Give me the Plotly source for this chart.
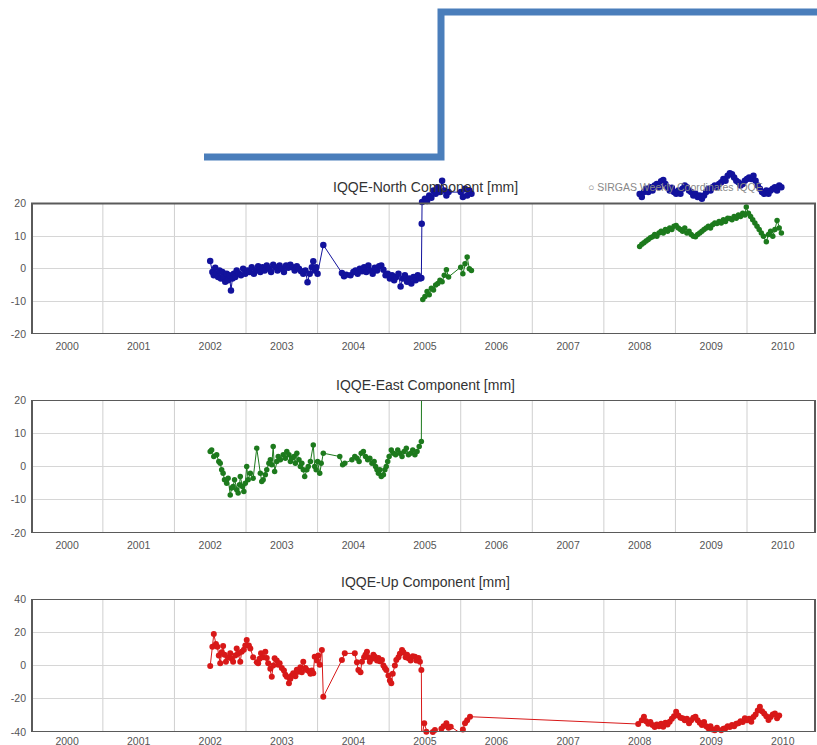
import plotly.graph_objects as go

# ---------------- data (decimal years, mm) ----------------
years = [2000, 2001, 2002, 2003, 2004, 2005, 2006, 2007, 2008, 2009, 2010]
year_labels = [str(y) for y in years]
grid_years = [2000.5, 2001.5, 2002.5, 2003.5, 2004.5, 2005.5, 2006.5, 2007.5, 2008.5, 2009.5]

north_blue_t = [
    2002.00, 2002.03, 2002.05, 2002.07, 2002.09, 2002.11, 2002.13, 2002.15, 2002.17, 2002.19,
    2002.21, 2002.23, 2002.25, 2002.27, 2002.29, 2002.31, 2002.33, 2002.35, 2002.37, 2002.40,
    2002.43, 2002.46, 2002.49, 2002.52, 2002.55, 2002.58, 2002.61, 2002.64, 2002.67, 2002.70,
    2002.73, 2002.76, 2002.79, 2002.82, 2002.85, 2002.88, 2002.91, 2002.94, 2002.97, 2003.00,
    2003.03, 2003.06, 2003.09, 2003.12, 2003.15, 2003.18, 2003.21, 2003.24, 2003.27, 2003.30,
    2003.33, 2003.36, 2003.39, 2003.42, 2003.44, 2003.46, 2003.48, 2003.50, 2003.58, 2003.84,
    2003.87, 2003.90, 2003.96, 2004.00, 2004.03, 2004.06, 2004.09, 2004.12, 2004.15, 2004.18,
    2004.21, 2004.24, 2004.27, 2004.30, 2004.33, 2004.36, 2004.39, 2004.42, 2004.45, 2004.48,
    2004.51, 2004.54, 2004.57, 2004.60, 2004.63, 2004.66, 2004.69, 2004.72, 2004.75, 2004.78,
    2004.81, 2004.84, 2004.87, 2004.90, 2004.93, 2004.95, 2004.955, 2004.96,
    2005.00, 2005.03, 2005.06, 2005.09, 2005.12, 2005.15, 2005.18, 2005.21, 2005.24, 2005.27,
    2005.30, 2005.33, 2005.50, 2005.53, 2005.56, 2005.59, 2005.62, 2005.65,
    None,
    2008.00, 2008.03, 2008.06, 2008.09, 2008.12, 2008.15, 2008.18, 2008.21, 2008.24, 2008.27,
    2008.30, 2008.33, 2008.36, 2008.39, 2008.42, 2008.45, 2008.48, 2008.51, 2008.54, 2008.57,
    2008.60, 2008.63, 2008.66, 2008.69, 2008.72, 2008.75, 2008.78, 2008.81, 2008.84, 2008.87,
    2008.90, 2008.93, 2008.96, 2008.99, 2009.02, 2009.05, 2009.08, 2009.11, 2009.14, 2009.17,
    2009.20, 2009.23, 2009.26, 2009.29, 2009.32, 2009.35, 2009.38, 2009.41, 2009.44, 2009.47,
    2009.50, 2009.53, 2009.56, 2009.59, 2009.62, 2009.65, 2009.68, 2009.71, 2009.74, 2009.77,
    2009.80, 2009.83, 2009.86, 2009.89, 2009.92, 2009.95, 2009.98,
]
north_blue_v = [
    2.4, -1.0, -2.0, 0.3, -1.5, -2.5, -0.5, -3.0, -1.0, -2.8,
    -4.0, -1.5, -3.5, -2.0, -6.7, -3.0, -1.5, -2.5, -0.5, -1.5,
    -2.0, 0.0, -1.5, -0.5, -1.0, 0.5, -1.5, -0.5, 0.8, -1.0,
    0.5, -0.5, 1.0, 0.0, -1.0, 1.2, 0.5, -0.5, 1.0, 0.0,
    -1.0, 1.0, 0.3, 1.2, 0.5, -0.5, 0.8, 0.0, -0.8, -1.5,
    -0.5, -4.1, -1.5, 0.5, 2.3, -0.5, 0.5, -1.5, 7.3, -1.3,
    -2.3, -1.8, -2.0, -1.0, -0.5, -1.5, 0.0, -0.8, 0.5, -1.0,
    1.0, -0.5, -1.5, 0.3, -0.5, 0.8, 1.0, -0.3, -2.0, -1.5,
    -3.0, -2.0, -3.5, -2.5, -1.5, -5.4, -3.0, -2.0, -4.0, -3.0,
    -4.5, -2.5, -3.5, -2.0, -3.0, -2.8, 13.8, 20.5,
    21.5, 20.8, 22.5, 21.8, 24.0, 23.0, 25.0, 23.5, 27.0, 24.0,
    22.5, 23.5, 23.5, 22.0, 24.5, 22.5, 24.0, 23.0,
    None,
    22.9, 22.0, 23.5, 24.5, 23.5, 25.0, 24.0, 25.5, 26.0, 25.0,
    26.8, 27.2, 26.0, 25.0, 24.0, 24.8, 23.5, 23.0, 24.0, 23.0,
    24.5, 25.5, 25.0, 24.0, 23.5, 22.5, 23.0, 22.0, 22.5, 21.5,
    22.5, 23.5, 24.5, 24.0, 25.0, 25.5, 25.0, 26.0, 26.5, 27.5,
    27.0, 28.5, 29.3, 29.0, 28.0, 27.0, 26.5, 25.5, 26.0, 27.0,
    27.5, 28.0, 27.5, 28.5, 27.0, 25.5, 24.5, 23.5, 23.0, 24.0,
    23.0, 24.0, 24.5, 25.0, 24.0, 25.5, 25.0,
]

north_green_t = [
    2004.97, 2005.00, 2005.03, 2005.06, 2005.09, 2005.12, 2005.15, 2005.18, 2005.21, 2005.24,
    2005.27, 2005.30, 2005.33, 2005.50, 2005.53, 2005.56, 2005.59, 2005.62, 2005.65,
    None,
    2008.00, 2008.03, 2008.06, 2008.09, 2008.12, 2008.15, 2008.18, 2008.21, 2008.24, 2008.27,
    2008.30, 2008.33, 2008.36, 2008.39, 2008.42, 2008.45, 2008.48, 2008.51, 2008.54, 2008.57,
    2008.60, 2008.63, 2008.66, 2008.69, 2008.72, 2008.75, 2008.78, 2008.81, 2008.84, 2008.87,
    2008.90, 2008.93, 2008.96, 2008.99, 2009.02, 2009.05, 2009.08, 2009.11, 2009.14, 2009.17,
    2009.20, 2009.23, 2009.26, 2009.29, 2009.32, 2009.35, 2009.38, 2009.41, 2009.44, 2009.47,
    2009.49, 2009.52, 2009.55, 2009.58, 2009.61, 2009.64, 2009.67, 2009.70, 2009.73, 2009.77,
    2009.80, 2009.83, 2009.86, 2009.89, 2009.92, 2009.95, 2009.98,
]
north_green_v = [
    -9.4, -8.5, -7.0, -8.0, -6.0, -6.5, -5.0, -4.5, -3.5, -4.0,
    -2.0, -0.3, -2.5, 0.5, -1.5, 1.5, 3.6, 0.0, -0.5,
    None,
    6.8, 7.5, 8.0, 8.5, 9.0, 9.5, 9.8, 10.5, 10.0, 11.0,
    11.5, 11.0, 12.0, 11.5, 12.5, 12.0, 13.0, 13.3, 12.5, 12.0,
    11.5, 12.5, 11.0, 11.5, 10.5, 10.0, 9.8, 10.5, 11.0, 11.5,
    12.0, 12.5, 13.0, 12.5, 13.5, 14.0, 13.9, 14.5, 14.0, 15.0,
    14.5, 15.5, 15.4, 15.0, 16.0, 15.5, 16.5, 16.0, 17.0, 16.5,
    18.9, 17.0, 16.0, 15.0, 14.0, 13.0, 12.0, 11.0, 10.0, 8.3,
    10.5, 11.5, 10.0, 12.0, 14.8, 12.5, 11.0,
]

east_t = [
    2002.00, 2002.02, 2002.05, 2002.09, 2002.12, 2002.14, 2002.16, 2002.18, 2002.20, 2002.23,
    2002.25, 2002.28, 2002.30, 2002.32, 2002.34, 2002.37, 2002.39, 2002.41, 2002.42, 2002.45,
    2002.47, 2002.49, 2002.51, 2002.53, 2002.56, 2002.60, 2002.65, 2002.70, 2002.72, 2002.74,
    2002.77, 2002.79, 2002.82, 2002.84, 2002.86, 2002.88, 2002.90, 2002.93, 2002.95, 2002.98,
    2003.02, 2003.05, 2003.07, 2003.10, 2003.12, 2003.14, 2003.17, 2003.19, 2003.21, 2003.24,
    2003.26, 2003.28, 2003.30, 2003.32, 2003.35, 2003.37, 2003.40, 2003.44, 2003.46, 2003.48,
    2003.50, 2003.53, 2003.55, 2003.58, 2003.81, 2003.85, 2003.88, 2003.98, 2004.02, 2004.05,
    2004.08, 2004.11, 2004.14, 2004.17, 2004.20, 2004.23, 2004.26, 2004.29, 2004.31, 2004.33,
    2004.35, 2004.37, 2004.39, 2004.42, 2004.44, 2004.46, 2004.48, 2004.50, 2004.53, 2004.56,
    2004.59, 2004.62, 2004.65, 2004.68, 2004.71, 2004.74, 2004.77, 2004.80, 2004.83, 2004.86,
    2004.89, 2004.92, 2004.95, 2004.955,
]
east_v = [
    4.5, 5.0, 3.0, 3.5, 1.5, 1.0, -1.0, -2.0, -4.0, -5.0,
    -3.5, -8.6, -6.5, -6.0, -4.0, -7.0, -8.0, -5.5, -3.0, -6.0,
    -7.5, -5.0, 0.0, -4.0, -2.0, -3.5, 5.5, -2.0, -4.5, -4.0,
    -2.5, -1.0, 1.0, 2.0, 0.5, 6.0, -1.5, 1.5, 3.0, 2.0,
    3.5, 2.5, 4.5, 3.5, 1.5, 2.5, 3.0, 1.0, 4.0, 2.0,
    0.0, 1.0, -1.0, -3.0, -1.0, 0.0, 1.5, 6.5, 0.0, -1.0,
    1.5, -2.0, 1.0, 4.0, 3.0, 0.5, 1.0, 2.0, 3.0, 2.5,
    1.5, 4.0, 4.5, 3.0, 2.0, 2.5, 1.0, 1.5, 0.0, -1.0,
    -2.0, -1.0, -3.0, -2.5, -1.0, 0.0, 1.5, 3.0, 5.0, 4.0,
    3.5, 5.0, 4.0, 3.0, 4.5, 5.5, 3.5, 4.0, 5.0, 3.5,
    4.5, 6.0, 7.5, 45.0,
]

up_t = [
    2002.00, 2002.03, 2002.05, 2002.08, 2002.10, 2002.12, 2002.14, 2002.16, 2002.18, 2002.20,
    2002.22, 2002.25, 2002.28, 2002.30, 2002.32, 2002.35, 2002.37, 2002.39, 2002.42, 2002.44,
    2002.47, 2002.49, 2002.51, 2002.54, 2002.56, 2002.60, 2002.65, 2002.67, 2002.69, 2002.71,
    2002.74, 2002.77, 2002.79, 2002.81, 2002.84, 2002.86, 2002.88, 2002.90, 2002.93, 2002.95,
    2002.97, 2003.00, 2003.03, 2003.05, 2003.07, 2003.10, 2003.12, 2003.14, 2003.16, 2003.19,
    2003.21, 2003.23, 2003.26, 2003.28, 2003.30, 2003.33, 2003.35, 2003.38, 2003.40, 2003.42,
    2003.44, 2003.46, 2003.49, 2003.51, 2003.53, 2003.56, 2003.58, 2003.84, 2003.88, 2004.02,
    2004.05, 2004.07, 2004.10, 2004.12, 2004.15, 2004.17, 2004.19, 2004.21, 2004.23, 2004.26,
    2004.28, 2004.30, 2004.33, 2004.35, 2004.37, 2004.40, 2004.42, 2004.44, 2004.46, 2004.49,
    2004.51, 2004.53, 2004.55, 2004.58, 2004.60, 2004.63, 2004.65, 2004.68, 2004.70, 2004.73,
    2004.75, 2004.77, 2004.80, 2004.83, 2004.86, 2004.88, 2004.91, 2004.93, 2004.95, 2004.955,
    2004.99, 2005.02, 2005.05, 2005.08, 2005.11, 2005.14, 2005.17, 2005.20, 2005.23, 2005.26,
    2005.30, 2005.33, 2005.36, 2005.50, 2005.53, 2005.56, 2005.59, 2005.63,
    2007.98, 2008.03, 2008.06, 2008.09, 2008.12, 2008.15, 2008.18, 2008.21, 2008.24, 2008.27,
    2008.30, 2008.33, 2008.36, 2008.39, 2008.42, 2008.45, 2008.48, 2008.51, 2008.54, 2008.57,
    2008.60, 2008.63, 2008.66, 2008.69, 2008.72, 2008.75, 2008.78, 2008.81, 2008.84, 2008.87,
    2008.90, 2008.93, 2008.96, 2008.99, 2009.02, 2009.05, 2009.08, 2009.11, 2009.14, 2009.17,
    2009.20, 2009.23, 2009.26, 2009.29, 2009.32, 2009.35, 2009.38, 2009.41, 2009.44, 2009.47,
    2009.50, 2009.53, 2009.56, 2009.59, 2009.62, 2009.65, 2009.68, 2009.71, 2009.74, 2009.77,
    2009.80, 2009.83, 2009.86, 2009.89, 2009.92, 2009.95,
]
up_v = [
    -0.3, 11.3, 18.9, 13.0, 11.3, 6.0, 1.3, 8.0, 11.7, 6.5,
    2.3, 5.0, 7.3, 4.0, 2.3, 6.0, 10.3, 7.0, 2.3, 8.3,
    9.5, 12.0, 15.3, 12.0, 10.3, 5.0, 2.0, 1.3, 4.0, 7.3,
    5.0, 8.3, 4.5, 1.3, -2.0, -6.7, 0.0, 4.3, 3.0, 0.5,
    1.3, -1.5, -3.0, -5.5, -6.7, -10.7, -8.0, -6.0, -4.7, -6.5,
    -2.5, -3.7, -1.0, -4.0, 2.3, -1.5, -2.7, -3.5, -5.0, -3.0,
    -4.7, 5.3, 3.0, 6.0, 0.5, 9.3, -18.8, 3.3, 7.3, 7.3,
    2.0, -2.7, -4.0, 2.3, 5.0, 6.5, 8.3, 5.0, 2.3, 4.0,
    6.5, 5.3, 3.0, 4.5, 2.5, 3.3, 0.0, -1.5, -2.7, -6.0,
    -9.0, -10.7, -5.0, 0.0, 3.3, 5.0, 7.0, 9.3, 8.0, 5.0,
    6.5, 4.3, 3.0, 5.5, 5.3, 3.0, 4.5, 2.3, -2.7, -44.0,
    -34.8, -39.8, -42.5, -41.8, -40.0, -38.8, -41.0, -40.8, -38.0, -36.5,
    -34.8, -37.5, -36.8, -40.8, -38.5, -34.8, -33.0, -30.8,
    -35.2, -33.0, -30.8, -33.5, -35.0, -34.0, -35.8, -37.0, -35.5, -36.5,
    -35.0, -36.8, -34.5, -35.5, -33.8, -32.0, -30.5, -27.8, -30.0, -31.5,
    -31.8, -33.0, -32.0, -34.8, -33.0, -31.5, -30.8, -33.0, -34.5, -35.8,
    -34.0, -36.5, -37.8, -36.5, -38.5, -39.0, -37.5, -40.8, -39.0, -38.0,
    -37.8, -36.5, -37.0, -35.8, -36.5, -35.0, -34.8, -33.5, -34.0, -31.8,
    -33.0, -32.0, -33.8, -31.0, -29.5, -27.0, -24.8, -27.5, -28.8, -30.5,
    -32.8, -31.0, -29.5, -28.8, -31.8, -30.0,
]

titles = ["IQQE-North Component [mm]", "IQQE-East Component [mm]", "IQQE-Up Component [mm]"]
legend_text = "○ SIRGAS Weekly Coordinates IQQE"

# ---------------- figure ----------------
W, H = 817, 745
BLUE = "#12129c"
GREEN = "#1d7a1d"
RED = "#d81818"
FONT = "Liberation Sans, Arial, sans-serif"


def py(px):
    return 1 - px / H


fig = go.Figure()


def series(t, v, color, xa, ya, size=5, clip=True):
    fig.add_trace(go.Scatter(
        x=t, y=v, mode="lines+markers", xaxis=xa, yaxis=ya,
        line=dict(color=color, width=1),
        marker=dict(color=color, size=size),
        cliponaxis=clip, connectgaps=False, showlegend=False,
        hoverinfo="x+y",
    ))


series(north_green_t, north_green_v, GREEN, "x", "y", 5.5)
series(north_blue_t, north_blue_v, BLUE, "x", "y", 6.5)
series(east_t, east_v, GREEN, "x2", "y2", 5.5)
series(up_t, up_v, RED, "x3", "y3", 6, clip=False)

xdom = [32 / W, 815 / W]
xrange_ = [1999.51, 2010.45]

panels = [
    # (yaxis key, bottom px, top px, range, tickvals)
    ("yaxis", 334, 167, [-20, 31.2], [-20, -10, 0, 10, 20]),
    ("yaxis2", 533, 400, [-20, 20], [-20, -10, 0, 10, 20]),
    ("yaxis3", 732, 599, [-40, 40], [-40, -20, 0, 20, 40]),
]
frame_top = [20, 20, 40]
frame_bot = [-20, -20, -40]
title_y = [187, 385, 582]
x_standoff = [4, 4, 1]

layout = dict(
    width=W, height=H, margin=dict(l=0, r=0, t=0, b=0, autoexpand=False),
    paper_bgcolor="white", plot_bgcolor="white",
    font=dict(family=FONT, size=11, color="#555"),
    showlegend=False,
)

for i, (ykey, bot, top, rng, tv) in enumerate(panels):
    xk = "xaxis" if i == 0 else f"xaxis{i+1}"
    yname = "y" if i == 0 else f"y{i+1}"
    xname = "x" if i == 0 else f"x{i+1}"
    layout[xk] = dict(
        domain=xdom, range=xrange_, anchor=yname, automargin=False,
        tickmode="array", tickvals=years, ticktext=year_labels,
        showgrid=False, zeroline=False, showline=False, ticks="",
        ticklabelstandoff=x_standoff[i],
        tickfont=dict(size=10.5, color="#555"),
    )
    layout[ykey] = dict(
        domain=[py(bot), py(top)], range=rng, anchor=xname, automargin=False,
        tickmode="array", tickvals=tv, ticktext=[str(v) for v in tv],
        showgrid=True, gridcolor="#d6d6d6", gridwidth=1,
        zeroline=False, showline=False, ticks="",
        ticklabelstandoff=5,
        tickfont=dict(size=10.5, color="#555"),
    )

fig.update_layout(**layout)

shapes = []
for i in range(3):
    xname = "x" if i == 0 else f"x{i+1}"
    yname = "y" if i == 0 else f"y{i+1}"
    for g in grid_years:
        shapes.append(dict(
            type="line", xref=xname, yref=yname,
            x0=g, x1=g, y0=frame_bot[i], y1=frame_top[i],
            line=dict(color="#cfcfcf", width=1), layer="below",
        ))
    shapes.append(dict(
        type="rect", xref=f"{xname} domain", yref=yname,
        x0=0, x1=1, y0=frame_bot[i], y1=frame_top[i],
        line=dict(color="#5a5a5a", width=2), fillcolor="rgba(0,0,0,0)",
        layer="above",
    ))

# overlaid blue connector line
x_a, x_b = 204 / W, 441 / W
y_a, y_b = py(157), py(12)
shapes.append(dict(
    type="path", xref="paper", yref="paper",
    path=f"M {x_a},{y_a} L {x_b},{y_a} L {x_b},{y_b} L 1.01,{y_b}",
    line=dict(color="#4a7ebb", width=7),
    layer="above",
))
fig.update_layout(shapes=shapes)

annotations = []
for i, t in enumerate(titles):
    annotations.append(dict(
        text=t, xref="paper", yref="paper", x=425 / W, y=py(title_y[i]),
        showarrow=False, xanchor="center", yanchor="middle",
        font=dict(family=FONT, size=14, color="#333"),
    ))
annotations.append(dict(
    text=legend_text, xref="paper", yref="paper", x=586 / W, y=py(187),
    showarrow=False, xanchor="left", yanchor="middle",
    font=dict(family=FONT, size=10.5, color="#888"),
))
fig.update_layout(annotations=annotations)

fig.write_html(
    "out.html",
    config={"displayModeBar": False},
    post_script="document.body.style.margin='0';document.body.style.overflow='hidden';",
)
